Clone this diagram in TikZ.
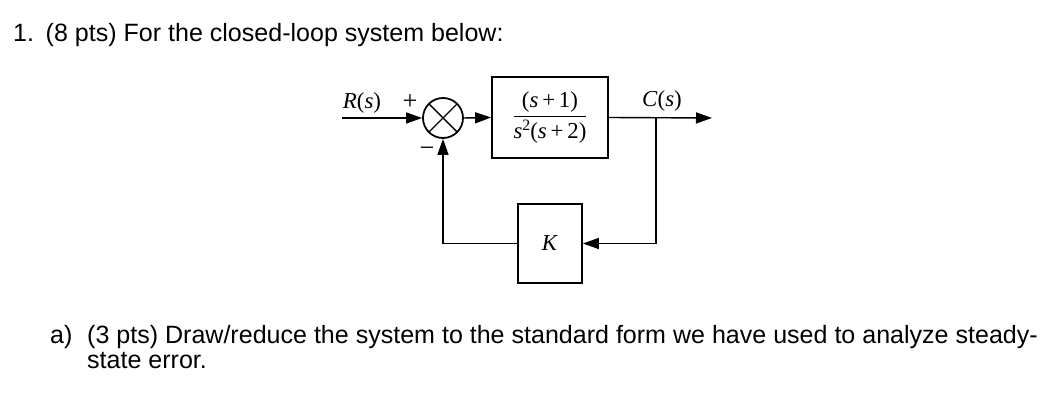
\documentclass[tikz,border=0pt]{standalone}
\usepackage{amsmath}
\usepackage{fontspec}
\setmainfont{Liberation Sans}
\newfontfamily\tmsfont{Liberation Serif}
\usetikzlibrary{arrows.meta}
\tikzset{
    blockdiag/.style={
        >={Triangle[length=3.2mm,width=2.2mm]},
        line width=0.8pt, line join=miter,
    },
    blockbox/.style={draw, line width=1pt, inner sep=0pt},
    sumnode/.style={draw, circle, line width=1pt, minimum size=0.8cm, inner sep=0pt,
        path picture={
            \draw[line width=0.8pt] (path picture bounding box.north west) -- (path picture bounding box.south east);
            \draw[line width=0.8pt] (path picture bounding box.north east) -- (path picture bounding box.south west);
        }},
    sigtext/.style={inner sep=0pt, font=\fontsize{13}{15}\selectfont\tmsfont},
    qtext/.style={anchor=base west, inner sep=0pt, font=\fontsize{14.25}{16}\selectfont},
}
\newcommand{\sv}{\textit{s}}
\newcommand{\siglabel}[1]{{\tmsfont #1}}

\begin{document}
\begin{tikzpicture}[blockdiag]
    \useasboundingbox (0,0) rectangle (21,8.4);
    % question text
    \node[qtext] (qnum) at (0.25,7.57) {1.};
    \node[qtext] (qhead) at (0.9,7.57) {(8 pts) For the closed-loop system below:};
    \node[qtext] (pnum) at (0.99,1.534) {a)};
    \node[qtext] (pline) at (1.73,1.534) {(3 pts) Draw/reduce the system to the standard form we have used to analyze steady-};
    \node[qtext] (pline2) at (1.73,1.034) {state error.};
    % blocks
    \node[sumnode] (sum) at (8.86,6.04) {};
    \node[blockbox, minimum width=2.32cm, minimum height=1.62cm] (plant) at (11,6.05)
        {\fontsize{13}{15}\selectfont$\dfrac{\hbox{\tmsfont(\sv\,+\,1)}}{\hbox{\tmsfont\sv\raisebox{0.75ex}{\small 2}(\sv\,+\,2)}}$};
    \node[blockbox, minimum width=1.28cm, minimum height=1.58cm] (gain) at (11,3.53)
        {\fontsize{13}{15}\selectfont\tmsfont\textit{K}};
    \coordinate (rin) at (6.84,6.04);
    \coordinate (cout) at (14.24,6.04);
    \coordinate (tap) at (13.12,6.04);
    % labels
    \node[sigtext] (rlabel) at (7.24,6.34) {\textit{R}(\sv)};
    \node[sigtext] (clabel) at (13.24,6.38) {\textit{C}(\sv)};
    \node[sigtext, font=\fontsize{15}{15}\selectfont\tmsfont] (plus) at (8.2,6.36) {+};
    \node[sigtext, font=\fontsize{15}{15}\selectfont\tmsfont] (minus) at (8.54,5.36) {−};
    % signal lines
    \draw[->] (rin) -- (sum.west);
    \draw[->] (sum.east) -- (plant.west);
    \draw[->] (plant.east) -- (cout);
    \draw[->] (tap) |- (gain.east);
    \draw[->] (gain.west) -| (sum.south);
\end{tikzpicture}
\end{document}
